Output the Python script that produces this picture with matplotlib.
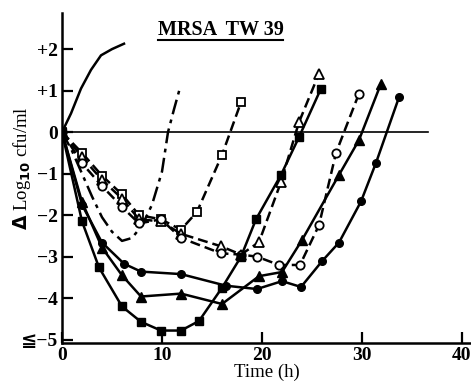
import matplotlib.pyplot as plt

plt.rcParams['font.family'] = ['Liberation Serif', 'DejaVu Serif']
plt.rcParams['font.weight'] = 'bold'

# control (no drug)
ctrl_t = [0, 0.9, 1.9, 2.9, 3.9, 5.0, 6.2]
ctrl_y = [0, 0.45, 1.05, 1.5, 1.85, 2.0, 2.13]

# dash-dot curve
dd_t = [0, 1, 2, 3, 4, 5, 6, 7, 8, 9, 10, 10.6, 11.2, 11.8]
dd_y = [0, -0.45, -1.0, -1.55, -2.05, -2.4, -2.62, -2.55, -2.25, -1.75, -0.95, 0, 0.55, 1.07]

# open squares, dashed
osq_t = [0, 2, 4, 6, 7.7, 9.9, 11.9, 13.5, 16, 17.9]
osq_y = [0, -0.5, -1.05, -1.5, -2.0, -2.1, -2.35, -1.92, -0.55, 0.72]

# open triangles, dashed
otr_t = [0, 2, 4, 6, 7.7, 9.9, 11.9, 15.9, 17.9, 19.7, 21.9, 23.7, 25.7]
otr_y = [0, -0.6, -1.15, -1.6, -2.1, -2.15, -2.45, -2.75, -2.95, -2.65, -1.2, 0.24, 1.41]

# open circles, dashed
oci_t = [0, 2, 4, 6, 7.7, 9.9, 11.9, 15.9, 17.9, 19.5, 21.7, 23.8, 25.7, 27.4, 29.7]
oci_y = [0, -0.75, -1.3, -1.8, -2.2, -2.1, -2.55, -2.92, -2.95, -3.0, -3.2, -3.2, -2.24, -0.5, 0.93]

# filled squares, solid
fsq_t = [0, 2, 3.7, 6, 7.9, 9.9, 11.9, 13.7, 16, 17.9, 19.4, 21.9, 23.7, 25.9]
fsq_y = [0, -2.15, -3.26, -4.2, -4.57, -4.78, -4.78, -4.55, -3.75, -3.0, -2.1, -1.03, -0.12, 1.05]

# filled triangles, solid
ftr_t = [0, 2, 4, 6, 7.9, 11.9, 16, 19.7, 22, 24, 27.7, 29.7, 31.9]
ftr_y = [0, -1.68, -2.78, -3.45, -3.96, -3.89, -4.14, -3.47, -3.37, -2.6, -1.03, -0.19, 1.17]

# filled circles, solid
fci_t = [0, 2, 4, 6.2, 7.9, 11.9, 16.4, 19.5, 22, 23.9, 26, 27.7, 29.9, 31.4, 33.7]
fci_y = [0, -1.75, -2.66, -3.17, -3.36, -3.42, -3.7, -3.78, -3.59, -3.73, -3.11, -2.66, -1.67, -0.74, 0.84]

yticks = [2, 1, 0, -1, -2, -3, -4, -5]
ytick_labels = ['+2', '+1', '0', '\u22121', '\u22122', '\u22123', '\u22124', '\u2266\u22125']
xticks = [0, 10, 20, 30, 40]

fig = plt.figure(figsize=(4.71, 3.85), dpi=100)
ax = fig.add_axes([62 / 471, 42 / 385, 409 / 471, 330 / 385])

ax.plot([0, 36.6], [0, 0], color='black', lw=1.2)

lw = 1.8
ax.plot(ctrl_t, ctrl_y, color='black', lw=lw)
ax.plot(dd_t, dd_y, color='black', lw=lw, ls=(0, (6, 2.2, 1.5, 2.2)))

dash = (0, (4, 2))
ax.plot(osq_t, osq_y, color='black', lw=lw, ls=dash, marker='s', ms=5.5,
        mfc='white', mec='black', mew=1.3)
ax.plot(otr_t, otr_y, color='black', lw=lw, ls=dash, marker='^', ms=6.5,
        mfc='white', mec='black', mew=1.3)
ax.plot(oci_t, oci_y, color='black', lw=lw, ls=dash, marker='o', ms=6,
        mfc='white', mec='black', mew=1.3)

ax.plot(fsq_t, fsq_y, color='black', lw=lw, marker='s', ms=6)
ax.plot(ftr_t, ftr_y, color='black', lw=lw, marker='^', ms=7)
ax.plot(fci_t, fci_y, color='black', lw=lw, marker='o', ms=5.5)

ax.set_xlim(0, 40.9)
ax.set_ylim(-5.08, 2.87)
ax.spines['top'].set_visible(False)
ax.spines['right'].set_visible(False)
ax.spines['left'].set_linewidth(1.8)
ax.spines['bottom'].set_linewidth(1.8)

ax.set_yticks(yticks)
ax.set_yticklabels(ytick_labels, fontsize=14,
                   family=['Liberation Serif', 'DejaVu Sans', 'Noto Sans CJK JP'])
ax.set_xticks(xticks)
ax.set_xticklabels([str(t) for t in xticks], fontsize=14)
ax.tick_params(direction='in', length=8, width=1.6, pad=3)

ax.set_xlabel('Time (h)', fontsize=13.5, labelpad=0)
ax.set_ylabel(r'$\it{\Delta}$ Log$_{\mathbf{10}}$ cfu/ml', fontsize=13.5)
ax.yaxis.set_label_coords(-0.072, 0.53)

ax.text(221 / 471, 1 - 30 / 385, 'MRSA  TW 39', transform=fig.transFigure,
        ha='center', va='center', fontsize=14.5)
ax.plot([158 / 471, 283 / 471], [1 - 40 / 385, 1 - 40 / 385], transform=fig.transFigure,
        color='black', lw=1.5, clip_on=False)

fig.savefig('out.png', dpi=100)
